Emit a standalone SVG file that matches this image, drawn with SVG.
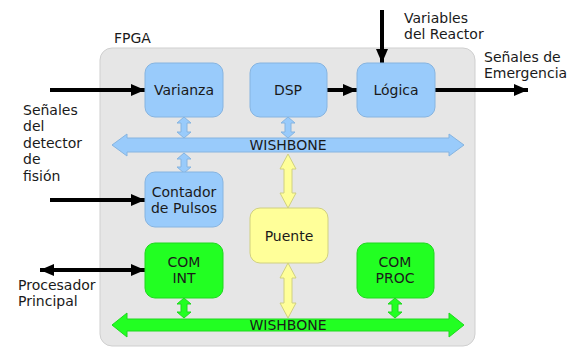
<svg xmlns="http://www.w3.org/2000/svg" width="571" height="348" viewBox="0 0 571 348">
<style>
text{font-family:"DejaVu Sans","Liberation Sans",sans-serif;font-size:14px;fill:#1a1a1a}
.c{text-anchor:middle}
.blue{fill:#99cbfb;stroke:#86b4e0;stroke-width:1}
.green{fill:#22ff22;stroke:#1ed81e;stroke-width:1}
.yellow{fill:#ffff99;stroke:#d0d080;stroke-width:1}
.wire{stroke:#000;stroke-width:4;fill:none}
</style>
<defs>
<marker id="ah" markerUnits="userSpaceOnUse" markerWidth="16" markerHeight="12" refX="14" refY="6" orient="auto-start-reverse">
<path d="M0,0 L14,6 L0,12 Z" fill="#000"/>
</marker>
</defs>
<rect width="571" height="348" fill="#fff"/>
<g id="fpga">
<rect x="100" y="48" width="375" height="298" rx="12" fill="#e6e6e6" stroke="#cfcfcf"/>
<text x="114" y="43">FPGA</text>
</g>
<g id="connectors">
<line class="wire" x1="50" y1="90" x2="145" y2="90" marker-end="url(#ah)"/>
<line class="wire" x1="327" y1="90" x2="357" y2="90" marker-end="url(#ah)"/>
<line class="wire" x1="435" y1="90" x2="528" y2="90" marker-end="url(#ah)"/>
<line class="wire" x1="382" y1="10" x2="382" y2="63" marker-end="url(#ah)"/>
<line class="wire" x1="50" y1="200" x2="145" y2="200" marker-end="url(#ah)"/>
<line class="wire" x1="40" y1="270" x2="145" y2="270" marker-start="url(#ah)" marker-end="url(#ah)"/>
<polygon class="blue" points="184,117 191,123 187,123 187,132 191,132 184,138 177,132 181,132 181,123 177,123"/>
<polygon class="blue" points="184,153 191,159 187,159 187,167 191,167 184,173 177,167 181,167 181,159 177,159"/>
<polygon class="blue" points="288,117 295,123 291,123 291,132 295,132 288,138 281,132 285,132 285,123 281,123"/>
<polygon class="yellow" points="288,154 296,169 292,169 292,193 296,193 288,208 280,193 284,193 284,169 280,169"/>
<polygon class="yellow" points="288,263 296,278 292,278 292,303 296,303 288,318 280,303 284,303 284,278 280,278"/>
<polygon class="green" points="184,298 191,304 187,304 187,312 191,312 184,318 177,312 181,312 181,304 177,304"/>
<polygon class="green" points="395,298 402,304 398,304 398,312 402,312 395,318 388,312 392,312 392,304 388,304"/>
</g>
<g id="wishbone-blue">
<polygon class="blue" points="112,145 127,134 127,138 449,138 449,134 464,145 449,156 449,152 127,152 127,156"/>
<text class="c" x="288" y="150">WISHBONE</text>
</g>
<g id="wishbone-green">
<polygon class="green" points="112,325 127,313 127,319 449,319 449,313 464,325 449,337 449,331 127,331 127,337"/>
<text class="c" x="288" y="330">WISHBONE</text>
</g>
<g id="varianza">
<rect class="blue" x="145" y="63" width="78" height="54" rx="10"/>
<text class="c" x="184" y="95">Varianza</text>
</g>
<g id="dsp">
<rect class="blue" x="250" y="63" width="77" height="54" rx="10"/>
<text class="c" x="288" y="95">DSP</text>
</g>
<g id="logica">
<rect class="blue" x="357" y="63" width="78" height="54" rx="10"/>
<text class="c" x="396" y="95">Lógica</text>
</g>
<g id="contador">
<rect class="blue" x="145" y="172" width="78" height="55" rx="10"/>
<text class="c" x="184" y="197">Contador</text>
<text class="c" x="184" y="213">de Pulsos</text>
</g>
<g id="puente">
<rect class="yellow" x="250" y="208" width="78" height="55" rx="10"/>
<text class="c" x="289" y="241">Puente</text>
</g>
<g id="comint">
<rect class="green" x="145" y="243" width="78" height="55" rx="10"/>
<text class="c" x="184" y="267">COM</text>
<text class="c" x="184" y="283">INT</text>
</g>
<g id="comproc">
<rect class="green" x="357" y="243" width="77" height="55" rx="10"/>
<text class="c" x="395" y="267">COM</text>
<text class="c" x="395" y="283">PROC</text>
</g>
<g id="labels">
<text x="404" y="23">Variables</text>
<text x="404" y="39">del Reactor</text>
<text x="484" y="62">Señales de</text>
<text x="484" y="78">Emergencia</text>
<text x="23" y="115">Señales</text>
<text x="23" y="131">del</text>
<text x="23" y="148">detector</text>
<text x="23" y="164">de</text>
<text x="23" y="181">fisión</text>
<text x="18" y="290">Procesador</text>
<text x="18" y="306">Principal</text>
</g>
</svg>
